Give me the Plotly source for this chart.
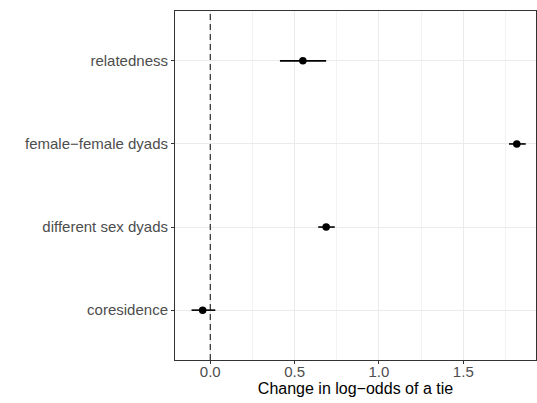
import plotly.graph_objects as go

terms = ["coresidence", "different sex dyads", "female\u2212female dyads", "relatedness"]
estimates = [-0.045, 0.687, 1.817, 0.549]
ci_low = [-0.111, 0.640, 1.771, 0.413]
ci_high = [0.030, 0.738, 1.870, 0.687]

err_plus = [h - e for h, e in zip(ci_high, estimates)]
err_minus = [e - l for e, l in zip(estimates, ci_low)]

fig = go.Figure()
fig.add_trace(go.Scatter(
    x=estimates, y=terms, mode="markers",
    marker=dict(color="black", size=7.5),
    error_x=dict(type="data", array=err_plus, arrayminus=err_minus,
                 color="black", thickness=1.6, width=0),
    showlegend=False,
))

fig.add_vline(x=0, line=dict(color="#1a1a1a", width=1.1, dash="6px,4px"))

font_family = "Liberation Sans, Arial, sans-serif"
fig.update_layout(
    width=537, height=403,
    margin=dict(l=175, r=1, t=10.5, b=43),
    paper_bgcolor="white", plot_bgcolor="white",
    font=dict(family=font_family),
    xaxis=dict(
        range=[-0.209, 1.931],
        tickvals=[0, 0.5, 1.0, 1.5], ticktext=["0.0", "0.5", "1.0", "1.5"],
        showgrid=True, gridcolor="#ebebeb", gridwidth=1,
        minor=dict(showgrid=True, gridcolor="#f3f3f3", gridwidth=0.6,
                   tick0=0, dtick=0.25),
        zeroline=False,
        showline=True, mirror=True, linecolor="#333333", linewidth=1,
        ticks="outside", ticklen=3, tickcolor="#333333", tickwidth=1,
        ticklabelstandoff=-5,
        tickfont=dict(size=15, color="#4d4d4d"),
        title=dict(text="Change in log\u2212odds of a tie",
                   font=dict(size=16, color="black"), standoff=0),
        automargin=False,
    ),
    yaxis=dict(
        type="category", categoryorder="array", categoryarray=terms,
        range=[-0.6, 3.6],
        showgrid=True, gridcolor="#ebebeb", gridwidth=1,
        zeroline=False,
        showline=True, mirror=True, linecolor="#333333", linewidth=1,
        ticks="outside", ticklen=3, tickcolor="#333333", tickwidth=1,
        tickfont=dict(size=15, color="#4d4d4d"),
        automargin=False,
    ),
)

fig.write_html("out.html")
